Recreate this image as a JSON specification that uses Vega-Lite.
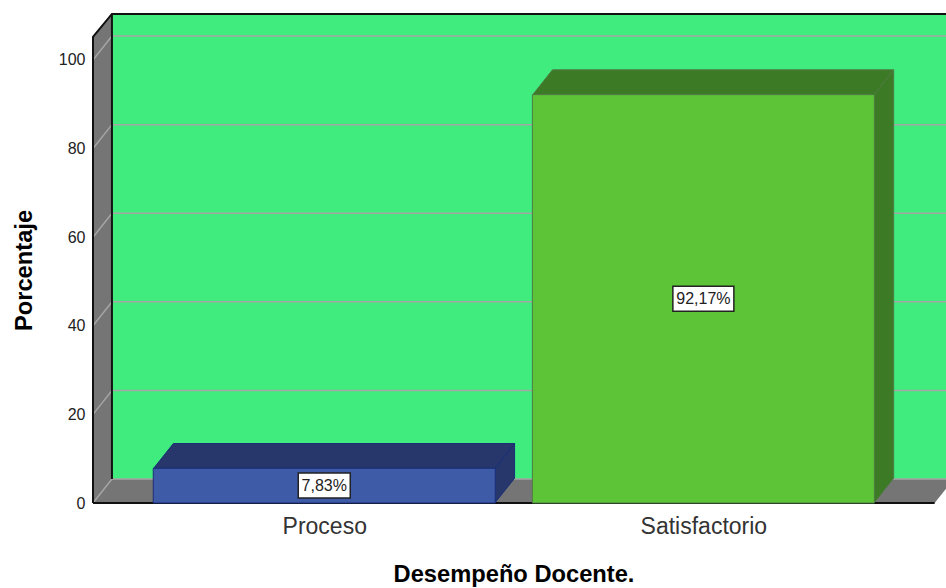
{
"$schema":"https://vega.github.io/schema/vega-lite/v6.json",
"autosize":"none","width":853,"height":490,
"padding":{"left":93,"top":13,"right":0,"bottom":85},
"background":"#ffffff",
"config":{"view":{"stroke":null},"font":"Liberation Sans"},
"datasets":{
"barras":[{"Desempeno":"Proceso","x":1,"y":7.83},{"Desempeno":"Satisfactorio","x":2,"y":92.17}],
"etiquetas":[{"Desempeno":"Proceso","x":1,"y":3.95,"etiqueta":"7,83%"},{"Desempeno":"Satisfactorio","x":2,"y":46.1,"etiqueta":"92,17%"}],
"verticales":[
{"parte":"pared","x":0.44,"y":5.4,"y2":110.6},{"parte":"pared","x":2.66,"y":5.4,"y2":110.6},
{"parte":"muro","x":0.39,"y":0,"y2":105.2},{"parte":"muro","x":0.44,"y":5.4,"y2":110.6}
],
"horizontales":[
{"parte":"muro","y":0,"x":0.39,"x2":2.61},{"parte":"muro","y":5.4,"x":0.44,"x2":2.66}
],
"lateralP":[{"parte":"Proceso","x":1.45,"y":0,"y2":7.83},{"parte":"Proceso","x":1.502,"y":5.6,"y2":13.43}],
"superiorP":[{"parte":"Proceso","y":7.83,"x":0.55,"x2":1.45},{"parte":"Proceso","y":13.43,"x":0.602,"x2":1.502}],
"lateralS":[{"parte":"Satisfactorio","x":2.45,"y":0,"y2":92.17},{"parte":"Satisfactorio","x":2.502,"y":5.6,"y2":97.77}],
"superiorS":[{"parte":"Satisfactorio","y":92.17,"x":1.55,"x2":2.45},{"parte":"Satisfactorio","y":97.77,"x":1.602,"x2":2.502}],
"rejilla":[
{"nivel":"0","n":1,"x":0.39,"y":0},{"nivel":"0","n":2,"x":0.44,"y":5.4},{"nivel":"0","n":3,"x":2.66,"y":5.4},
{"nivel":"20","n":1,"x":0.39,"y":20},{"nivel":"20","n":2,"x":0.44,"y":25.4},{"nivel":"20","n":3,"x":2.66,"y":25.4},
{"nivel":"40","n":1,"x":0.39,"y":40},{"nivel":"40","n":2,"x":0.44,"y":45.4},{"nivel":"40","n":3,"x":2.66,"y":45.4},
{"nivel":"60","n":1,"x":0.39,"y":60},{"nivel":"60","n":2,"x":0.44,"y":65.4},{"nivel":"60","n":3,"x":2.66,"y":65.4},
{"nivel":"80","n":1,"x":0.39,"y":80},{"nivel":"80","n":2,"x":0.44,"y":85.4},{"nivel":"80","n":3,"x":2.66,"y":85.4},
{"nivel":"100","n":1,"x":0.39,"y":100},{"nivel":"100","n":2,"x":0.44,"y":105.4},{"nivel":"100","n":3,"x":2.66,"y":105.4}
],
"bordes":[
{"linea":"exterior","n":1,"x":0.39,"y":0},{"linea":"exterior","n":2,"x":0.39,"y":105.2},{"linea":"exterior","n":3,"x":0.44,"y":110.4},{"linea":"exterior","n":4,"x":2.66,"y":110.4},
{"linea":"interior","n":1,"x":0.44,"y":110.4},{"linea":"interior","n":2,"x":0.44,"y":5.4},
{"linea":"base","n":1,"x":0.39,"y":0},{"linea":"base","n":2,"x":2.61,"y":0}
]
},
"encoding":{
"x":{"field":"x","type":"quantitative","scale":{"domain":[0.39,2.64],"nice":false,"zero":false,"padding":0},
 "axis":{"values":[1,2],"labelExpr":"datum.value==1?'Proceso':'Satisfactorio'","domain":false,"ticks":false,"grid":false,"labelFontSize":23,"labelColor":"#333333","labelPadding":12,"labelFlush":false,"title":"Desempeño Docente.","titleFontSize":23.7,"titleFontWeight":"bold","titleColor":"#000000","titlePadding":24,"titleX":420.5}},
"y":{"field":"y","type":"quantitative","scale":{"domain":[0,110.6],"nice":false,"padding":0},
 "axis":{"values":[0,20,40,60,80,100],"domain":false,"ticks":false,"grid":false,"labelFontSize":16,"labelColor":"#222222","labelPadding":8,"title":"Porcentaje","titleFontSize":23.7,"titleFontWeight":"bold","titleColor":"#000000","titlePadding":22,"titleY":257}}
},
"layer":[
{"data":{"name":"verticales"},"mark":{"type":"area","orient":"vertical"},
 "encoding":{"y2":{"field":"y2"},"detail":{"field":"parte"},"color":{"field":"parte","type":"nominal","legend":null,"scale":{"domain":["pared","muro","Proceso","Satisfactorio"],"range":["#41EC7F","#757575","#27376B","#3C7A25"]}}}},
{"data":{"name":"horizontales"},"mark":{"type":"area","orient":"horizontal"},
 "encoding":{"x2":{"field":"x2"},"color":{"field":"parte","type":"nominal","legend":null}}},
{"data":{"name":"rejilla"},"mark":{"type":"line","color":"#A5A5A5","strokeWidth":1.5},
 "encoding":{"detail":{"field":"nivel"},"order":{"field":"n"}}},
{"data":{"name":"bordes"},"mark":{"type":"line","color":"#111111","strokeWidth":2},
 "encoding":{"detail":{"field":"linea"},"order":{"field":"n"}}},
{"data":{"name":"lateralP"},"mark":{"type":"area","orient":"vertical","stroke":"#1B2F78","strokeWidth":1},
 "encoding":{"y2":{"field":"y2"},"color":{"field":"parte","type":"nominal","legend":null}}},
{"data":{"name":"superiorP"},"mark":{"type":"area","orient":"horizontal","stroke":"#1B2F78","strokeWidth":1},
 "encoding":{"x2":{"field":"x2"},"color":{"field":"parte","type":"nominal","legend":null}}},
{"data":{"name":"barras"},"transform":[{"filter":"datum.Desempeno=='Proceso'"}],"mark":{"type":"bar","orient":"vertical","size":342,"fill":"#3E5BA8","stroke":"#1B2F78","strokeWidth":1},"encoding":{}},
{"data":{"name":"lateralS"},"mark":{"type":"area","orient":"vertical","stroke":"#4F7A45","strokeWidth":1},
 "encoding":{"y2":{"field":"y2"},"color":{"field":"parte","type":"nominal","legend":null}}},
{"data":{"name":"superiorS"},"mark":{"type":"area","orient":"horizontal","stroke":"#4F7A45","strokeWidth":1},
 "encoding":{"x2":{"field":"x2"},"color":{"field":"parte","type":"nominal","legend":null}}},
{"data":{"name":"barras"},"transform":[{"filter":"datum.Desempeno=='Satisfactorio'"}],"mark":{"type":"bar","orient":"vertical","size":342,"fill":"#5EC437","stroke":"#4F7A45","strokeWidth":1},"encoding":{}},
{"data":{"name":"etiquetas"},"transform":[{"filter":"datum.Desempeno=='Proceso'"}],"mark":{"type":"rect","width":52,"height":25,"fill":"#ffffff","stroke":"#222222","strokeWidth":1.5},"encoding":{}},
{"data":{"name":"etiquetas"},"transform":[{"filter":"datum.Desempeno=='Satisfactorio'"}],"mark":{"type":"rect","width":61,"height":25,"fill":"#ffffff","stroke":"#222222","strokeWidth":1.5},"encoding":{}},
{"data":{"name":"etiquetas"},"mark":{"type":"text","fontSize":16,"color":"#222222"},"encoding":{"text":{"field":"etiqueta"}}}
]
}
